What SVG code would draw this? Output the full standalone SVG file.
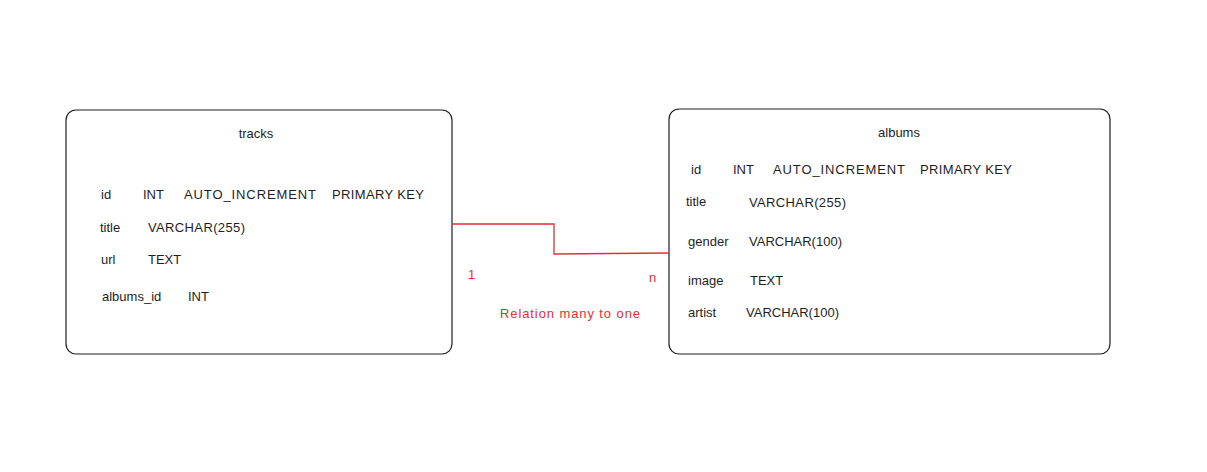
<svg xmlns="http://www.w3.org/2000/svg" width="1207" height="472" viewBox="0 0 1207 472">
<style>
.box{fill:#fff;stroke:#1e1e1e;stroke-width:1.2}
.t{font-family:"Liberation Sans",Arial,sans-serif;font-size:13px;fill:#1e1e1e}
.r{font-family:"Liberation Sans",Arial,sans-serif;font-size:13px;fill:#e03131}
.conn{fill:none;stroke:#e03131;stroke-width:1.3}
</style>
<rect width="1207" height="472" fill="#fff"/>
<g id="tracks">
<rect class="box" x="66" y="110" width="386" height="244" rx="10"/>
<text class="t" x="256" y="138" text-anchor="middle">tracks</text>
<text class="t" x="101" y="199">id</text>
<text class="t" x="143" y="199">INT</text>
<text class="t" x="184" y="199" textLength="132">AUTO_INCREMENT</text>
<text class="t" x="332" y="199" textLength="92">PRIMARY KEY</text>
<text class="t" x="100" y="232">title</text>
<text class="t" x="148" y="232" textLength="97">VARCHAR(255)</text>
<text class="t" x="101" y="264">url</text>
<text class="t" x="148" y="264">TEXT</text>
<text class="t" x="102" y="301">albums_id</text>
<text class="t" x="188" y="301">INT</text>
</g>
<g id="albums">
<rect class="box" x="669" y="109" width="441" height="245" rx="10"/>
<text class="t" x="899" y="137" text-anchor="middle">albums</text>
<text class="t" x="691" y="174">id</text>
<text class="t" x="733" y="174">INT</text>
<text class="t" x="773" y="174" textLength="132">AUTO_INCREMENT</text>
<text class="t" x="920" y="174" textLength="92">PRIMARY KEY</text>
<text class="t" x="686" y="206">title</text>
<text class="t" x="749" y="207" textLength="97">VARCHAR(255)</text>
<text class="t" x="688" y="246">gender</text>
<text class="t" x="749" y="246" textLength="93">VARCHAR(100)</text>
<text class="t" x="688" y="285">image</text>
<text class="t" x="750" y="285">TEXT</text>
<text class="t" x="688" y="317">artist</text>
<text class="t" x="746" y="317" textLength="93">VARCHAR(100)</text>
</g>
<g id="connectors">
<path class="conn" d="M452 224 H554 V254 L669 253"/>
<text class="r" x="468" y="279">1</text>
<text class="r" x="649" y="282">n</text>
<text class="r" x="500" y="318" textLength="140">Relation many to one</text>
</g>
</svg>
